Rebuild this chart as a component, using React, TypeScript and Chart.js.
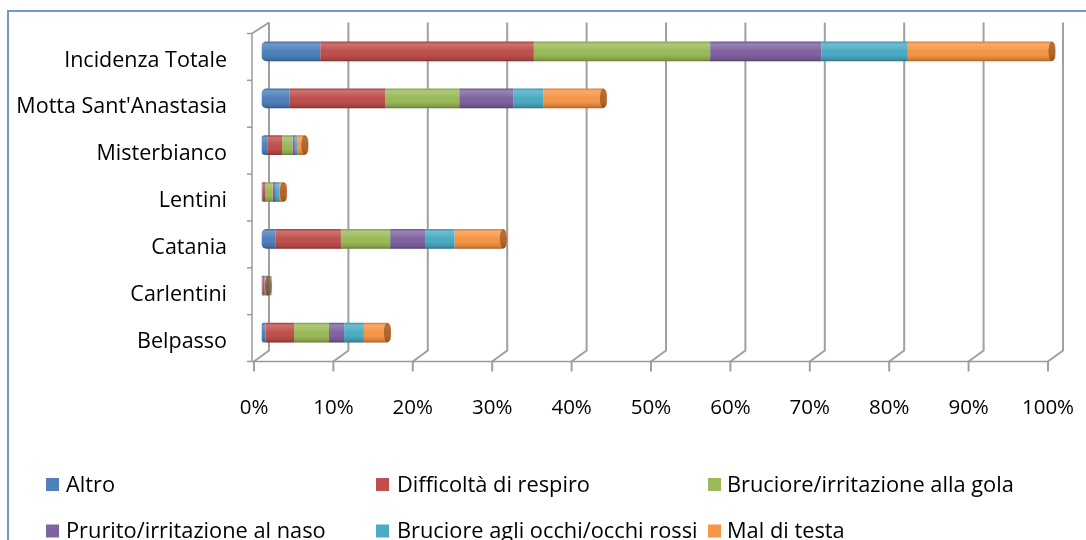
import React, { useEffect, useRef } from "react";
import { Chart, registerables } from "chart.js";

Chart.register(...registerables);

const categories = [
  "Incidenza Totale",
  "Motta Sant'Anastasia",
  "Misterbianco",
  "Lentini",
  "Catania",
  "Carlentini",
  "Belpasso",
];

const seriesNames = [
  "Altro",
  "Difficoltà di respiro",
  "Bruciore/irritazione alla gola",
  "Prurito/irritazione al naso",
  "Bruciore agli occhi/occhi rossi",
  "Mal di testa",
];

const altro = [7.4, 3.5, 0.8, 0.1, 1.8, 0.1, 0.5];
const difficolta = [26.9, 12.1, 1.8, 0.4, 8.2, 0.3, 3.6];
const gola = [22.2, 9.3, 1.3, 0.9, 6.2, 0.2, 4.4];
const naso = [14.0, 6.8, 0.3, 0.4, 4.4, 0.2, 1.9];
const occhi = [10.9, 3.8, 0.3, 0.4, 3.7, 0.2, 2.5];
const testa = [18.6, 8.0, 1.4, 1.0, 6.6, 0.3, 3.4];

const seriesValues = [altro, difficolta, gola, naso, occhi, testa];
const seriesColors = ["#4F81BD", "#C0504D", "#9BBB59", "#8064A2", "#4BACC6", "#F79646"];

const xTickValues = [0, 10, 20, 30, 40, 50, 60, 70, 80, 90, 100];

const FONT = "'Open Sans', Lato, sans-serif";
const DX = 7.5;
const DY = 5.5;

const framePlugin = {
  id: "frame3d",
  beforeDatasetsDraw(chart: any) {
    const { ctx, chartArea: ca, scales } = chart;
    const xs = scales.x;
    const ys = scales.y;
    ctx.save();
    ctx.strokeStyle = "#a0a0a0";
    ctx.lineWidth = 2;
    xs.ticks.forEach((t: any) => {
      const px = xs.getPixelForValue(t.value);
      ctx.beginPath();
      ctx.moveTo(px + DX, ca.top - DY);
      ctx.lineTo(px + DX, ca.bottom - DY);
      ctx.lineTo(px - DX, ca.bottom + DY);
      ctx.lineTo(px - DX, ca.bottom + DY + 10);
      ctx.stroke();
    });
    ctx.lineWidth = 1.5;
    ctx.strokeStyle = "#9a9a9a";
    const fx = ca.left - DX - 2;
    ctx.beginPath();
    ctx.moveTo(fx, ca.bottom + DY);
    ctx.lineTo(xs.getPixelForValue(100) - DX, ca.bottom + DY);
    ctx.stroke();
    ctx.beginPath();
    ctx.moveTo(fx, ca.bottom + DY);
    ctx.lineTo(fx, ca.top + DY);
    ctx.lineTo(ca.left + DX, ca.top - DY);
    ctx.stroke();
    const n = ys.ticks.length;
    const band = (ca.bottom - ca.top) / n;
    for (let k = 0; k <= n; k++) {
      const y = ca.top + DY + k * band;
      ctx.beginPath();
      ctx.moveTo(fx - 5, y);
      ctx.lineTo(fx, y);
      ctx.stroke();
    }
    ctx.restore();
  },
  afterDatasetsDraw(chart: any) {
    const { ctx } = chart;
    const nSeries = chart.data.datasets.length;
    const first = chart.getDatasetMeta(0);
    const last = chart.getDatasetMeta(nSeries - 1);
    ctx.save();
    first.data.forEach((el0: any, j: number) => {
      const a = el0.getProps(["x", "y", "base", "height"], true);
      const b = last.data[j].getProps(["x", "y", "base", "height"], true);
      const left = Math.min(a.base, a.x);
      const right = Math.max(b.x, b.base);
      const h = a.height;
      const top = a.y - h / 2;
      const g = ctx.createLinearGradient(0, top, 0, top + h);
      g.addColorStop(0, "rgba(0,0,0,0.10)");
      g.addColorStop(0.12, "rgba(255,255,255,0.20)");
      g.addColorStop(0.35, "rgba(255,255,255,0.08)");
      g.addColorStop(0.65, "rgba(0,0,0,0)");
      g.addColorStop(0.88, "rgba(0,0,0,0.14)");
      g.addColorStop(1, "rgba(0,0,0,0.32)");
      ctx.fillStyle = g;
      ctx.beginPath();
      (ctx as any).roundRect(left, top, right - left, h, Math.min(5, (right - left) / 2));
      ctx.fill();
      const rx = Math.min(3.5, (right - left) / 3);
      ctx.beginPath();
      ctx.ellipse(right - rx, a.y, rx, h / 2, 0, 0, Math.PI * 2);
      ctx.fillStyle = "rgba(90,45,10,0.45)";
      ctx.fill();
    });
    ctx.restore();
  },
  afterDraw(chart: any) {
    const { ctx } = chart;
    const boxX = [46, 376, 708];
    const textX = [66, 397, 727];
    const rowY = [484.5, 531];
    ctx.save();
    ctx.font = `21.8px ${FONT}`;
    ctx.textBaseline = "middle";
    ctx.textAlign = "left";
    seriesNames.forEach((name, i) => {
      const col = i % 3;
      const row = Math.floor(i / 3);
      ctx.fillStyle = seriesColors[i];
      ctx.fillRect(boxX[col], rowY[row] - 6.5, 13, 13);
      ctx.fillStyle = "#000";
      ctx.fillText(name, textX[col], rowY[row] + 1);
    });
    ctx.restore();
  },
};

export default function App() {
  const ref = useRef<HTMLCanvasElement | null>(null);
  useEffect(() => {
    if (!ref.current) return;
    const last = seriesValues.length - 1;
    const chart = new Chart(ref.current, {
      type: "bar",
      data: {
        labels: categories,
        datasets: seriesValues.map((vals, i) => ({
          label: seriesNames[i],
          data: vals,
          backgroundColor: seriesColors[i],
          borderWidth: 0,
          borderSkipped: false,
          borderRadius:
            i === 0
              ? { topLeft: 5, bottomLeft: 5, topRight: 0, bottomRight: 0 }
              : i === last
              ? { topLeft: 0, bottomLeft: 0, topRight: 5, bottomRight: 5 }
              : 0,
          barPercentage: 0.42,
          categoryPercentage: 1,
        })),
      },
      options: {
        indexAxis: "y",
        responsive: false,
        animation: false,
        devicePixelRatio: 1,
        layout: { padding: { top: 28, right: 30.5, left: 0, bottom: 0 } },
        plugins: {
          legend: { display: false },
          tooltip: { enabled: false },
        },
        scales: {
          x: {
            stacked: true,
            min: 0,
            max: 100,
            grid: { display: false, drawTicks: false },
            border: { display: false },
            afterFit: (s: any) => {
              s.height = 184;
              s.paddingLeft = 0;
              s.paddingRight = 0;
            },
            afterBuildTicks: (s: any) => {
              s.ticks = xTickValues.map((v) => ({ value: v }));
            },
            ticks: {
              padding: 40,
              labelOffset: -7.5,
              color: "#000",
              font: { family: FONT, size: 20.5 },
              callback: (v: any) => `${v}%`,
            },
          },
          y: {
            stacked: true,
            grid: { display: false, drawTicks: false },
            border: { display: false },
            afterFit: (s: any) => {
              s.width = 261.5;
              s.paddingTop = 0;
              s.paddingBottom = 0;
            },
            ticks: {
              padding: 34.5,
              labelOffset: 9,
              color: "#000",
              font: { family: FONT, size: 21.5 },
            },
          },
        },
      },
      plugins: [framePlugin],
    });
    return () => chart.destroy();
  }, []);

  return (
    <div
      style={{
        position: "fixed",
        left: 0,
        top: 0,
        width: 1086,
        height: 540,
        overflow: "hidden",
        background: "#fff",
      }}
    >
      <div
        style={{
          position: "absolute",
          left: 7,
          top: 10,
          width: 1200,
          height: 700,
          border: "2px solid #7198c8",
        }}
      />
      <canvas
        ref={ref}
        width={1086}
        height={540}
        style={{ position: "absolute", left: 0, top: 0, width: 1086, height: 540 }}
      />
    </div>
  );
}
